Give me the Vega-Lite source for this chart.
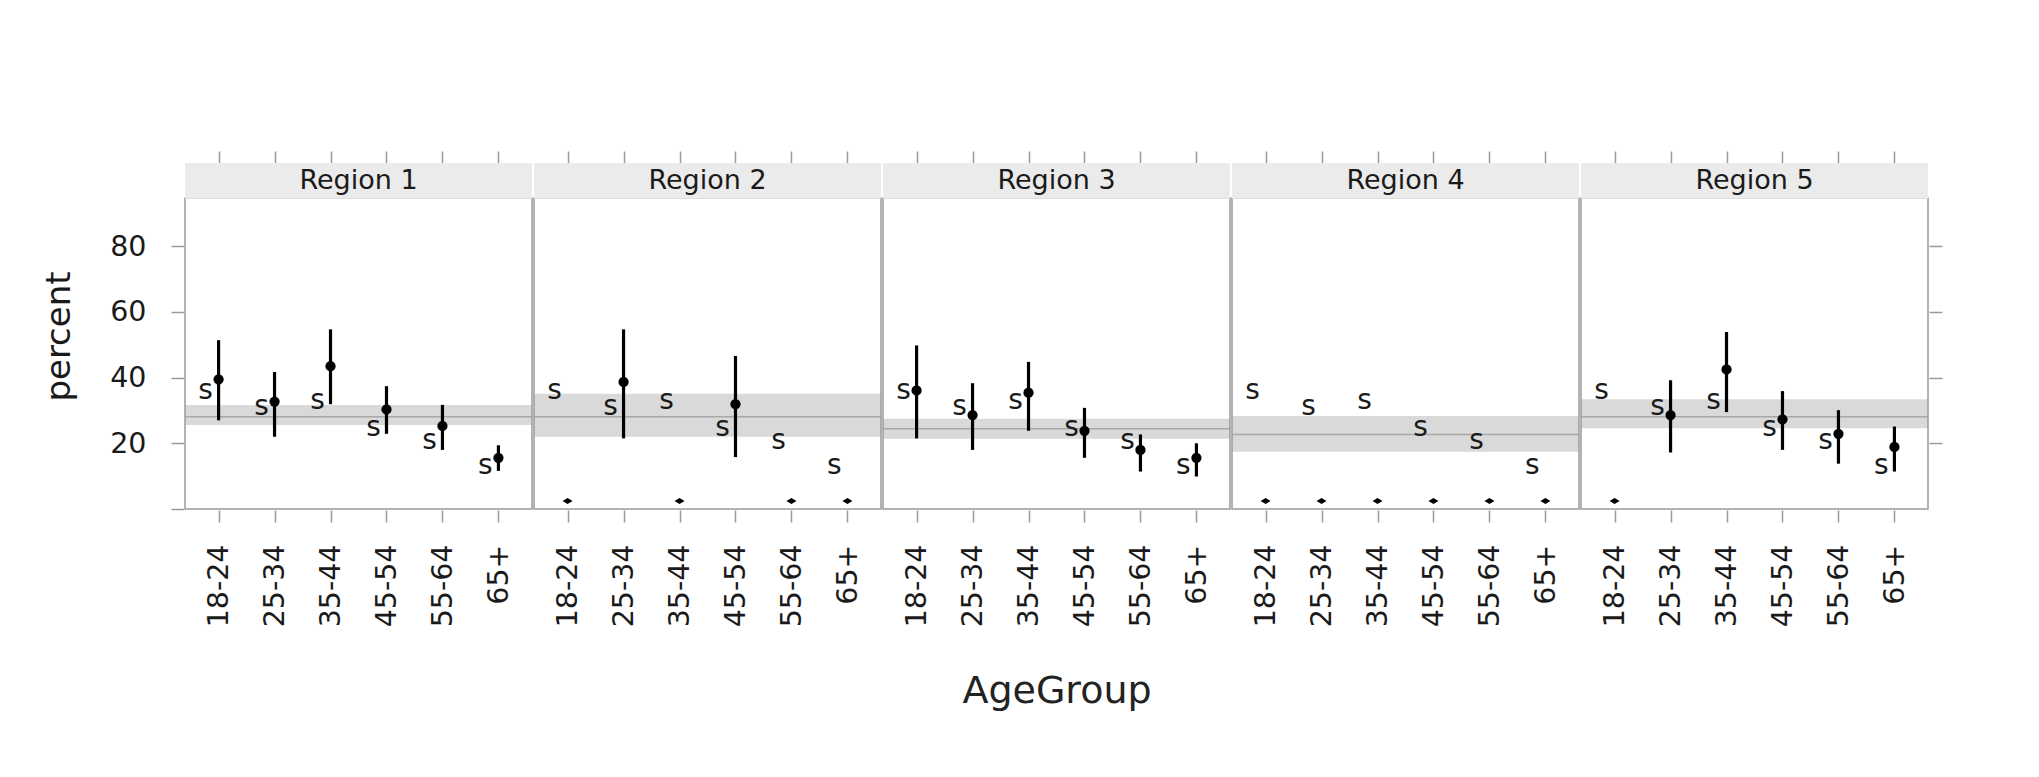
{
  "$schema": "https://vega.github.io/schema/vega-lite/v6.json",
  "padding": {"left": 42, "top": 150, "right": 5, "bottom": 5},
  "background": "white",
  "data": {
    "values": [
      {"Region": "Region 1", "AgeGroup": "18-24", "est": 39.5, "lo": 27.0, "hi": 51.4, "s": 36.0},
      {"Region": "Region 1", "AgeGroup": "25-34", "est": 32.7, "lo": 22.0, "hi": 41.7, "s": 31.0},
      {"Region": "Region 1", "AgeGroup": "35-44", "est": 43.5, "lo": 31.9, "hi": 54.7, "s": 32.8},
      {"Region": "Region 1", "AgeGroup": "45-54", "est": 30.3, "lo": 22.9, "hi": 37.4, "s": 24.8},
      {"Region": "Region 1", "AgeGroup": "55-64", "est": 25.3, "lo": 18.0, "hi": 31.7, "s": 20.6},
      {"Region": "Region 1", "AgeGroup": "65+", "est": 15.6, "lo": 11.6, "hi": 19.4, "s": 13.0},
      {"Region": "Region 2", "AgeGroup": "18-24", "est": null, "lo": null, "hi": null, "s": 36.0},
      {"Region": "Region 2", "AgeGroup": "25-34", "est": 38.7, "lo": 21.5, "hi": 54.7, "s": 31.0},
      {"Region": "Region 2", "AgeGroup": "35-44", "est": null, "lo": null, "hi": null, "s": 32.8},
      {"Region": "Region 2", "AgeGroup": "45-54", "est": 31.9, "lo": 15.8, "hi": 46.6, "s": 24.8},
      {"Region": "Region 2", "AgeGroup": "55-64", "est": null, "lo": null, "hi": null, "s": 20.6},
      {"Region": "Region 2", "AgeGroup": "65+", "est": null, "lo": null, "hi": null, "s": 13.0},
      {"Region": "Region 3", "AgeGroup": "18-24", "est": 36.1, "lo": 21.5, "hi": 49.8, "s": 36.0},
      {"Region": "Region 3", "AgeGroup": "25-34", "est": 28.6, "lo": 18.0, "hi": 38.3, "s": 31.0},
      {"Region": "Region 3", "AgeGroup": "35-44", "est": 35.4, "lo": 23.8, "hi": 44.8, "s": 32.8},
      {"Region": "Region 3", "AgeGroup": "45-54", "est": 23.8, "lo": 15.6, "hi": 30.8, "s": 24.8},
      {"Region": "Region 3", "AgeGroup": "55-64", "est": 18.0, "lo": 11.4, "hi": 22.7, "s": 20.6},
      {"Region": "Region 3", "AgeGroup": "65+", "est": 15.6, "lo": 9.9, "hi": 20.0, "s": 13.0},
      {"Region": "Region 4", "AgeGroup": "18-24", "est": null, "lo": null, "hi": null, "s": 36.0},
      {"Region": "Region 4", "AgeGroup": "25-34", "est": null, "lo": null, "hi": null, "s": 31.0},
      {"Region": "Region 4", "AgeGroup": "35-44", "est": null, "lo": null, "hi": null, "s": 32.8},
      {"Region": "Region 4", "AgeGroup": "45-54", "est": null, "lo": null, "hi": null, "s": 24.8},
      {"Region": "Region 4", "AgeGroup": "55-64", "est": null, "lo": null, "hi": null, "s": 20.6},
      {"Region": "Region 4", "AgeGroup": "65+", "est": null, "lo": null, "hi": null, "s": 13.0},
      {"Region": "Region 5", "AgeGroup": "18-24", "est": null, "lo": null, "hi": null, "s": 36.0},
      {"Region": "Region 5", "AgeGroup": "25-34", "est": 28.6, "lo": 17.2, "hi": 39.2, "s": 31.0},
      {"Region": "Region 5", "AgeGroup": "35-44", "est": 42.5, "lo": 29.5, "hi": 53.9, "s": 32.8},
      {"Region": "Region 5", "AgeGroup": "45-54", "est": 27.3, "lo": 18.0, "hi": 35.9, "s": 24.8},
      {"Region": "Region 5", "AgeGroup": "55-64", "est": 22.9, "lo": 13.8, "hi": 30.1, "s": 20.6},
      {"Region": "Region 5", "AgeGroup": "65+", "est": 18.9, "lo": 11.4, "hi": 25.1, "s": 13.0},
      {"Region": "Region 1", "bandLo": 25.6, "bandHi": 31.7, "bandMid": 28.1},
      {"Region": "Region 2", "bandLo": 22.0, "bandHi": 35.1, "bandMid": 28.1},
      {"Region": "Region 3", "bandLo": 21.4, "bandHi": 27.5, "bandMid": 24.4},
      {"Region": "Region 4", "bandLo": 17.4, "bandHi": 28.3, "bandMid": 22.7},
      {"Region": "Region 5", "bandLo": 24.6, "bandHi": 33.4, "bandMid": 28.1}
    ]
  },
  "spacing": 0,
  "facet": {
    "column": {
      "field": "Region", "type": "nominal",
      "header": {
        "labels": false,
        "title": "AgeGroup",
        "titleOrient": "bottom",
        "titleFont": "DejaVu Sans",
        "titleFontSize": 38,
        "titleFontWeight": "normal",
        "titleColor": "#222222",
        "titlePadding": 36
      }
    }
  },
  "spec": {
    "width": 347,
    "height": 346,
    "resolve": {"axis": {"x": "independent", "y": "independent"}},
    "layer": [
      {
        "transform": [{"filter": "datum.bandMid != null"}],
        "mark": {"type": "rect", "fill": "#d9d9d9"},
        "encoding": {
          "y": {"field": "bandLo", "type": "quantitative", "scale": {"domain": [0, 105.35], "nice": false, "zero": false}, "axis": null},
          "y2": {"field": "bandHi"}
        }
      },
      {
        "transform": [{"filter": "datum.bandMid != null"}],
        "mark": {"type": "rule", "color": "#a8a8a8", "strokeWidth": 1.5},
        "encoding": {
          "y": {"field": "bandMid", "type": "quantitative", "axis": null}
        }
      },
      {
        "transform": [{"filter": "datum.bandMid != null"}],
        "mark": {"type": "rect", "filled": false, "color": "#9a9a9a", "strokeWidth": 1.5},
        "encoding": {
          "y": {"datum": 0, "type": "quantitative", "axis": null},
          "y2": {"datum": 94.7}
        }
      },
      {
        "transform": [{"filter": "datum.bandMid != null"}],
        "mark": {"type": "rect", "fill": "#ebebeb"},
        "encoding": {
          "y": {"datum": 94.45, "type": "quantitative", "axis": null},
          "y2": {"datum": 105.35}
        }
      },
      {
        "transform": [{"filter": "datum.est != null"}],
        "mark": {"type": "rule", "color": "black", "strokeWidth": 3.2},
        "encoding": {
          "x": {"field": "AgeGroup", "type": "nominal",
                "scale": {"type": "point", "domain": ["18-24", "25-34", "35-44", "45-54", "55-64", "65+"], "padding": 0.6},
                "axis": {"orient": "top", "labels": false, "domain": false, "ticks": true, "tickSize": 12, "tickColor": "#9a9a9a", "tickWidth": 1.5, "title": null}},
          "y": {"field": "lo", "type": "quantitative", "axis": null},
          "y2": {"field": "hi"}
        }
      },
      {
        "transform": [{"filter": "datum.est != null"}],
        "mark": {"type": "point", "shape": "circle", "filled": true, "color": "black", "size": 105, "opacity": 1},
        "encoding": {
          "x": {"field": "AgeGroup", "type": "nominal", "axis": null},
          "y": {"field": "est", "type": "quantitative",
                "axis": {"orient": "right", "values": [20, 40, 60, 80], "labels": false, "domain": false, "tickSize": 13, "tickColor": "#9a9a9a", "tickWidth": 1.5, "title": null}}
        }
      },
      {
        "transform": [{"filter": "datum.AgeGroup != null"}],
        "mark": {"type": "text", "text": "s", "dx": -13, "font": "DejaVu Sans", "fontSize": 28, "color": "#1a1a1a", "baseline": "middle", "align": "center"},
        "encoding": {
          "x": {"field": "AgeGroup", "type": "nominal",
                "scale": {"type": "point", "domain": ["18-24", "25-34", "35-44", "45-54", "55-64", "65+"], "padding": 0.6},
                "axis": {"orient": "bottom", "labelAngle": 270, "labelFont": "DejaVu Sans", "labelFontSize": 28.5, "labelColor": "#1a1a1a", "labelPadding": 22, "domain": false, "tickSize": 12, "tickColor": "#9a9a9a", "tickWidth": 1.5, "title": null}},
          "y": {"field": "s", "type": "quantitative",
                "axis": {"orient": "left", "values": [0, 20, 40, 60, 80], "labelExpr": "datum.value == 0 ? '' : datum.label", "labelFont": "DejaVu Sans", "labelFontSize": 28.5, "labelColor": "#1a1a1a", "labelPadding": 25, "domain": false, "tickSize": 13, "tickColor": "#9a9a9a", "tickWidth": 1.5, "grid": false,
                         "title": "percent", "titleFont": "DejaVu Sans", "titleFontSize": 34, "titleFontWeight": "normal", "titleColor": "#1a1a1a", "titlePadding": 33}}
        }
      },
      {
        "transform": [{"filter": "datum.AgeGroup != null && datum.est == null"}],
        "mark": {"type": "point", "shape": "M-1,0L0,-0.6L1,0L0,0.6Z", "filled": true, "color": "black", "size": 100, "opacity": 1},
        "encoding": {
          "x": {"field": "AgeGroup", "type": "nominal", "axis": null},
          "y": {"datum": 2.4, "type": "quantitative", "axis": null}
        }
      },
      {
        "transform": [{"filter": "datum.bandMid != null"}],
        "mark": {"type": "text", "font": "DejaVu Sans", "fontSize": 27, "color": "#1a1a1a", "baseline": "middle", "align": "center"},
        "encoding": {
          "text": {"field": "Region", "type": "nominal"},
          "y": {"datum": 99.8, "type": "quantitative", "axis": null}
        }
      }
    ]
  },
  "config": {"view": {"stroke": null}, "font": "DejaVu Sans"}
}
